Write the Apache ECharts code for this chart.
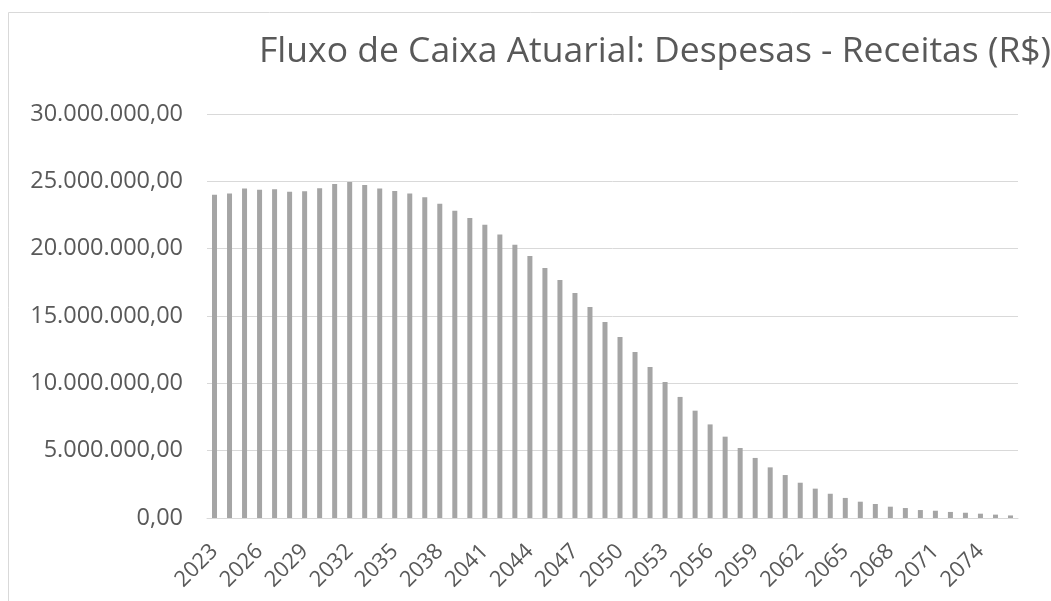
<!DOCTYPE html>
<html>
<head>
<meta charset="utf-8">
<script src="https://cdn.jsdelivr.net/npm/echarts@6/dist/echarts.min.js"></script>
<style>
  html, body { margin: 0; padding: 0; background: #fff; }
  #charts { width: 1051px; height: 601px; }
</style>
</head>
<body>
<div id="charts"></div>
<script>
// anos 2023..2076
var anos = [];
for (var a = 2023; a <= 2076; a++) anos.push(String(a));

// Despesas - Receitas (R$)
var fluxo = [
  24010000, 24090000, 24460000, 24380000, 24410000, 24230000, 24260000, 24480000, 24800000, 24950000,
  24730000, 24460000, 24290000, 24090000, 23810000, 23340000, 22820000, 22280000, 21780000, 21060000,
  20300000, 19460000, 18570000, 17680000, 16710000, 15670000, 14560000, 13440000, 12330000, 11220000,
  10100000, 8990000, 7970000, 6950000, 6040000, 5200000, 4460000, 3760000, 3190000, 2620000,
  2180000, 1800000, 1490000, 1210000, 1040000, 840000, 740000, 590000, 540000, 450000,
  390000, 320000, 250000, 190000
];

var titulo = 'Fluxo de Caixa Atuarial: Despesas - Receitas (R$)';
var fonte = "'Open Sans', sans-serif";

function brl(v) {
  var s = Math.round(v).toString().replace(/\B(?=(\d{3})+(?!\d))/g, '.');
  return s + ',00';
}

var chartDom = document.getElementById('charts');
var myChart = echarts.init(chartDom);
var option = {
  animation: false,
  title: {
    text: titulo,
    left: 254,
    top: 29,
    textStyle: { fontFamily: fonte, fontSize: 35.5, fontWeight: 'normal', color: '#595959' }
  },
  graphic: [{
    type: 'rect',
    shape: { x: 8.5, y: 12.5, width: 1100, height: 700 },
    style: { fill: 'none', stroke: '#d9d9d9', lineWidth: 1 },
    silent: true
  }],
  grid: { left: 207, right: 33, top: 114, bottom: 83 },
  xAxis: {
    type: 'category',
    data: anos,
    axisLine: { lineStyle: { color: '#d9d9d9', width: 1 } },
    axisTick: { show: false },
    axisLabel: {
      interval: 2,
      rotate: 45,
      margin: 30,
      fontFamily: fonte,
      fontSize: 22,
      color: '#595959'
    }
  },
  yAxis: {
    type: 'value',
    min: 0,
    max: 30000000,
    interval: 5000000,
    axisLine: { show: false },
    axisTick: { show: false },
    splitLine: { lineStyle: { color: '#d9d9d9', width: 1 } },
    axisLabel: {
      formatter: brl,
      margin: 24,
      fontFamily: fonte,
      fontSize: 23.5,
      color: '#595959'
    }
  },
  series: [{
    type: 'bar',
    data: fluxo,
    barWidth: 5,
    itemStyle: { color: '#a5a5a5' }
  }]
};
option && myChart.setOption(option);
</script>
</body>
</html>
